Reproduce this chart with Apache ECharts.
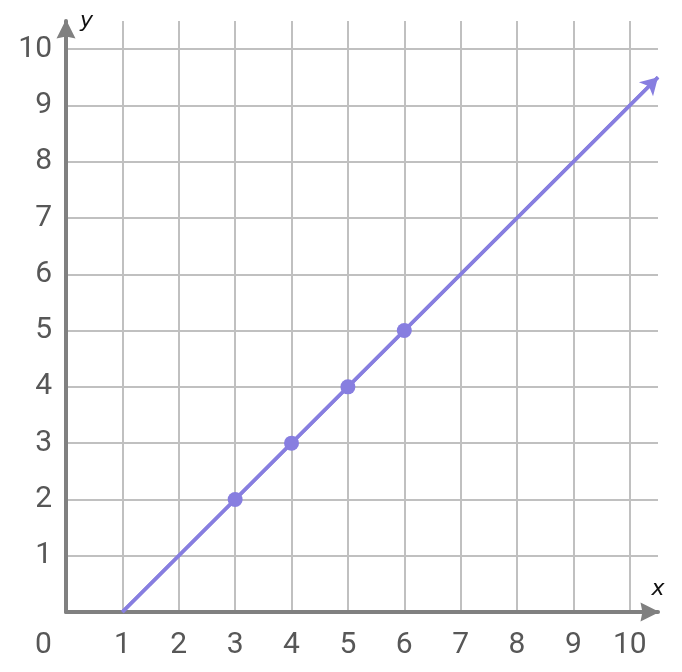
<!DOCTYPE html>
<html>
<head>
<meta charset="utf-8">
<script src="https://cdn.jsdelivr.net/npm/echarts@6/dist/echarts.min.js"></script>
<style>
html,body{margin:0;padding:0;background:#fff;}
#chart{width:682px;height:672px;}
</style>
</head>
<body>
<div id="chart"></div>
<script>
// Data
var lineX = [1, 10.5];
var lineY = [0, 9.5];
var pointsX = [3, 4, 5, 6];
var pointsY = [2, 3, 4, 5];
var xTicks = [0, 1, 2, 3, 4, 5, 6, 7, 8, 9, 10];
var yTicks = [1, 2, 3, 4, 5, 6, 7, 8, 9, 10];
var axisMax = 10.5;

var purple = '#877ee0';
var labelColor = '#575757';
var font = 'Roboto';

var lineData = lineX.map(function (x, i) { return [x, lineY[i]]; });
var pointData = pointsX.map(function (x, i) { return [x, pointsY[i]]; });

var axisArrow = 'path://M0,20 L10,0 L20,20 L10,18 Z';

var chart = echarts.init(document.getElementById('chart'), null, { renderer: 'canvas' });
chart.setOption({
  animation: false,
  backgroundColor: '#ffffff',
  grid: { left: 66, right: 24, top: 21, bottom: 60, containLabel: false },
  xAxis: {
    type: 'value', min: 0, max: axisMax, interval: 1,
    name: 'x', nameLocation: 'end', nameGap: 0,
    nameTextStyle: { fontFamily: 'DejaVu Sans', fontStyle: 'italic', fontSize: 22, color: '#111', align: 'center', verticalAlign: 'bottom', padding: [0, 0, 12, 0] },
    axisLine: { show: true, onZero: false, symbol: ['none', axisArrow], symbolSize: [20, 19], symbolOffset: [0, -8], lineStyle: { color: '#808080', width: 4 } },
    axisTick: { show: false },
    axisLabel: {
      margin: 18, fontSize: 30, color: labelColor, fontFamily: font,
      showMaxLabel: false,
      formatter: function (v) {
        if (v === 0) return '{z|0}';
        return xTicks.indexOf(v) >= 0 ? String(v) : '';
      },
      rich: { z: { fontSize: 30, color: labelColor, fontFamily: font, padding: [0, 45, 0, 0] } }
    },
    splitLine: { show: true, showMaxLine: false, lineStyle: { color: '#c0c0c0', width: 2 } }
  },
  yAxis: {
    type: 'value', min: 0, max: axisMax, interval: 1,
    name: 'y', nameLocation: 'end', nameGap: 0,
    nameTextStyle: { fontFamily: 'DejaVu Sans', fontStyle: 'italic', fontSize: 22, color: '#111', align: 'left', verticalAlign: 'middle', padding: [12, 0, 0, 14] },
    axisLine: { show: true, onZero: false, symbol: ['none', axisArrow], symbolSize: [20, 19], symbolOffset: [0, -8], lineStyle: { color: '#808080', width: 4 } },
    axisTick: { show: false },
    axisLabel: {
      margin: 14, fontSize: 30, color: labelColor, fontFamily: font,
      showMaxLabel: false,
      formatter: function (v) { return yTicks.indexOf(v) >= 0 ? String(v) : ''; }
    },
    splitLine: { show: true, showMaxLine: false, lineStyle: { color: '#c0c0c0', width: 2 } }
  },
  series: [
    {
      type: 'line', data: lineData, clip: false, z: 3,
      symbol: 'none',
      lineStyle: { color: purple, width: 3.5 },
      itemStyle: { color: purple },
      markLine: {
        silent: true, animation: false,
        symbol: ['none', 'arrow'], symbolSize: [15, 17], symbolOffset: 0,
        label: { show: false },
        lineStyle: { color: purple, width: 3.5, type: 'solid' },
        emphasis: { disabled: true },
        data: [[{ coord: lineData[0] }, { coord: lineData[lineData.length - 1] }]]
      }
    },
    {
      type: 'scatter', data: pointData, symbol: 'circle', symbolSize: 15, z: 4,
      itemStyle: { color: purple, opacity: 1 }
    }
  ]
});
</script>
</body>
</html>
